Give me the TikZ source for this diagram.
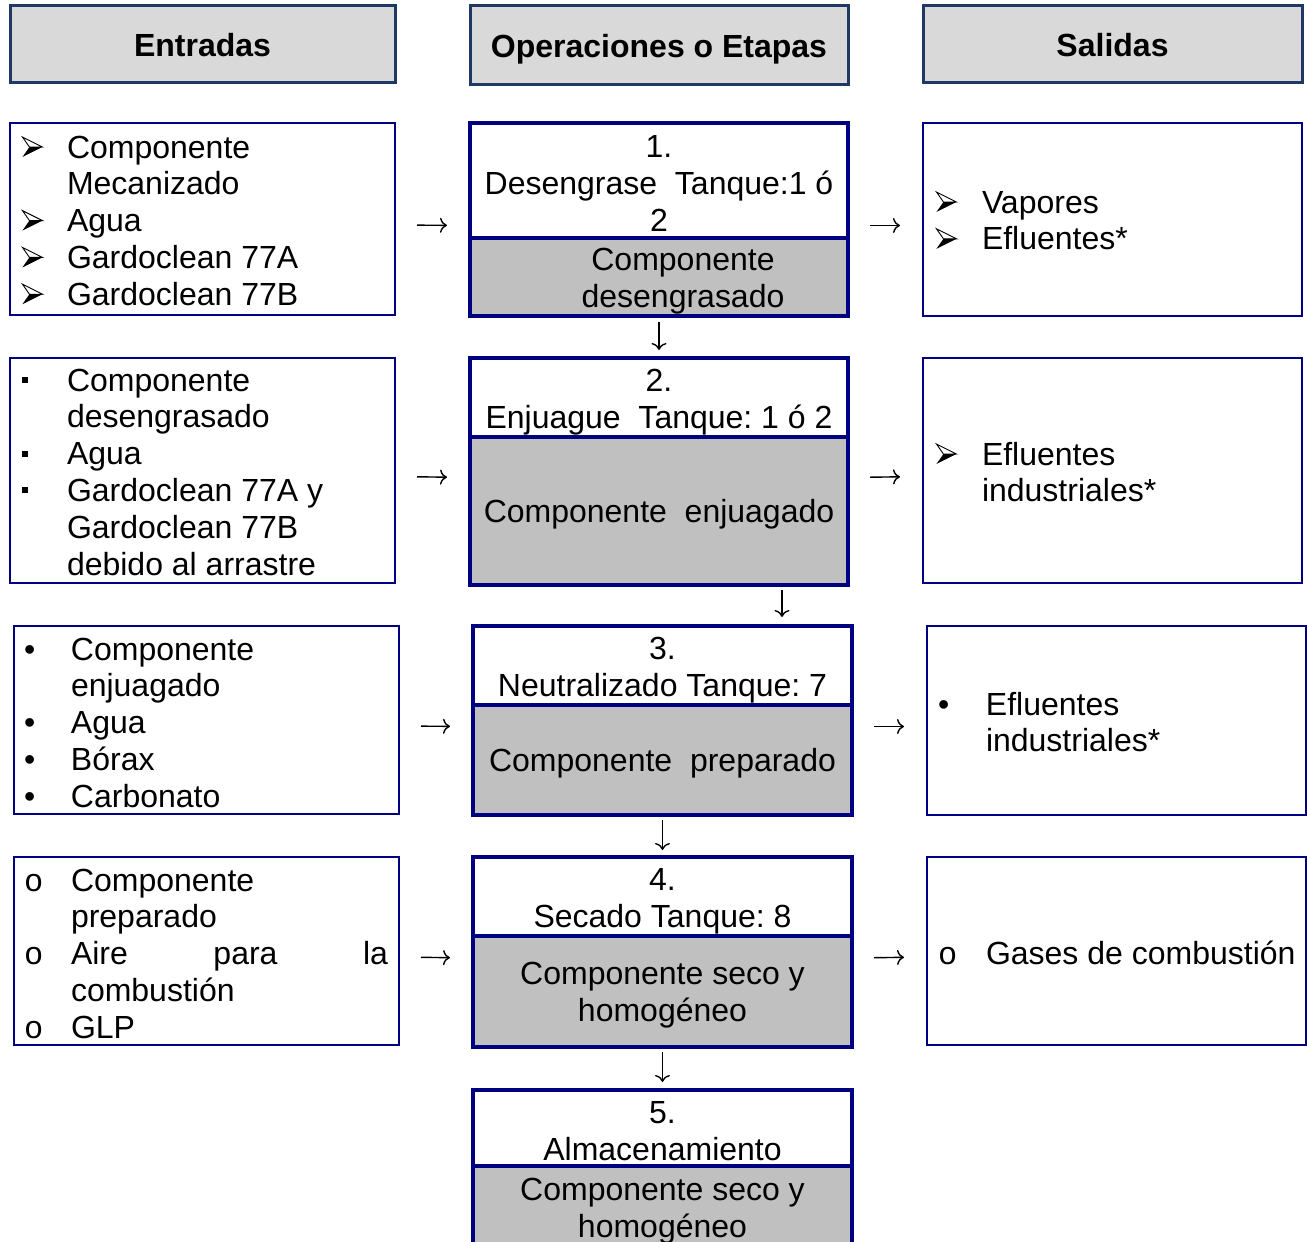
\documentclass[tikz,border=0pt]{standalone}
\usepackage{fontspec}
\setmainfont{Liberation Sans}
\newfontfamily\courierfont{Liberation Mono}
\usetikzlibrary{calc,fit,arrows.meta}
\frenchspacing

\definecolor{navy}{HTML}{000080}
\definecolor{headblue}{HTML}{1F3864}
\definecolor{headfill}{HTML}{D9D9D9}
\definecolor{stagefill}{HTML}{C0C0C0}

\newcommand\bodyfont{\fontsize{32}{36.8}\selectfont}
% list bullets
\newcommand\barrow{\tikz[x=1pt,y=1pt,baseline=0pt,line width=0.9pt,line join=miter]{%
  \filldraw[draw=black,fill=white] (0,21) -- (20,11) -- (7,11) -- cycle;
  \fill[black] (7,11) -- (20,11) -- (0,1) -- cycle;}}
\newcommand\bsquare{\raisebox{8pt}{\rule{6pt}{6pt}}}
\newcommand\bdot{•}
\newcommand\bcirc{{\courierfont o}}
% bullet list: fixed indent column, then the item text
\newcommand\blist[2]{\begin{tabular}[t]{@{}p{#1}@{}l@{}}#2\end{tabular}}

\begin{document}
\begin{tikzpicture}[x=1pt,y=-1pt,
  every node/.style={inner sep=0pt, outer sep=0pt},
  hdr/.style={draw=headblue, line width=3pt, fill=headfill, font=\bodyfont\bfseries,
    text height=28pt, text depth=3pt},
  listbox/.style={draw=navy, line width=2pt, fill=white},
  txt/.style={anchor=base west, font=\bodyfont, align=left},
  stagetop/.style={draw=navy, line width=3.5pt, fill=white},
  stagebot/.style={stagetop, fill=stagefill},
  stagetxt/.style={font=\bodyfont, align=center},
  flow/.style={line width=1.4pt, -{To[length=7pt,width=15pt]}},
  across/.style={flow, shorten <=22pt, shorten >=23pt},
]
\useasboundingbox (0,0) rectangle (1307,1242);
\clip (0,0) rectangle (1307,1242);
\fill[white] (0,0) rectangle (1307,1242);

% column headers
\node[hdr, minimum width=385, minimum height=77] (hIn)  at (202.5,43.5) {Entradas};
\node[hdr, minimum width=378, minimum height=79] (hOp)  at (659,44.5)   {Operaciones o Etapas};
\node[hdr, minimum width=379, minimum height=77] (hOut) at (1112.5,43.5) {Salidas};

% ---------- stage 1 ----------
\node[listbox, minimum width=385, minimum height=192] (in1) at (202.5,219) {};
\node[txt] (in1t) at (22,158) {\blist{45pt}{\barrow & Componente\\ & Mecanizado\\ \barrow & Agua\\ \barrow & Gardoclean 77A\\ \barrow & Gardoclean 77B}};
\node[stagetop, minimum width=378, minimum height=115] (op1t) at (659,180.5) {};
\node[stagebot, minimum width=378, minimum height=78] (op1b) at (659,277) {};
\node[fit=(op1t)(op1b)] (op1) {};
\node[stagetxt] (op1tt) at ($(op1t.center)+(0,3)$) {1.\\Desengrase\ \ Tanque:1 ó\\2};
\node[stagetxt] (op1bt) at ($(op1b.center)+(24,4)$) {Componente\\desengrasado};
\node[listbox, minimum width=379, minimum height=193] (out1) at (1112.5,219.5) {};
\node[txt] (out1t) at (936,213) {\blist{46pt}{\barrow & Vapores\\ \barrow & Efluentes*}};

% ---------- stage 2 ----------
\node[listbox, minimum width=385, minimum height=225] (in2) at (202.5,470.5) {};
\node[txt] (in2t) at (22,391) {\blist{45pt}{\bsquare & Componente\\ & desengrasado\\ \bsquare & Agua\\ \bsquare & Gardoclean 77A y\\ & Gardoclean 77B\\ & debido al arrastre}};
\node[stagetop, minimum width=378, minimum height=79] (op2t) at (659,397.5) {};
\node[stagebot, minimum width=378, minimum height=148] (op2b) at (659,511) {};
\node[fit=(op2t)(op2b)] (op2) {};
\node[stagetxt] (op2tt) at ($(op2t.center)+(0,5)$) {2.\\Enjuague\ \ Tanque: 1 ó 2};
\node[stagetxt] (op2bt) at ($(op2b.center)+(0,3)$) {Componente\ \ enjuagado};
\node[listbox, minimum width=379, minimum height=225] (out2) at (1112.5,470.5) {};
\node[txt] (out2t) at (936,465) {\blist{46pt}{\barrow & Efluentes\\ & industriales*}};

% ---------- stage 3 ----------
\node[listbox, minimum width=385, minimum height=188] (in3) at (206.5,720) {};
\node[txt] (in3t) at (24,660) {\blist{47pt}{\bdot & Componente\\ & enjuagado\\ \bdot & Agua\\ \bdot & Bórax\\ \bdot & Carbonato}};
\node[stagetop, minimum width=379, minimum height=79] (op3t) at (662.5,665.5) {};
\node[stagebot, minimum width=379, minimum height=110] (op3b) at (662.5,760) {};
\node[fit=(op3t)(op3b)] (op3) {};
\node[stagetxt] (op3tt) at ($(op3t.center)+(0,5)$) {3.\\Neutralizado Tanque: 7};
\node[stagetxt] (op3bt) at ($(op3b.center)+(0,3)$) {Componente\ \ preparado};
\node[listbox, minimum width=379, minimum height=189] (out3) at (1116.5,720.5) {};
\node[txt] (out3t) at (938,715) {\blist{48pt}{\bdot & Efluentes\\ & industriales*}};

% ---------- stage 4 ----------
\node[listbox, minimum width=385, minimum height=188] (in4) at (206.5,951) {};
\node[txt] (in4t) at (24,891) {\blist{47pt}{\bcirc & Componente\\ & preparado\\ \bcirc & \makebox[317pt][s]{Aire para la}\\ & combustión\\ \bcirc & GLP}};
\node[stagetop, minimum width=379, minimum height=79] (op4t) at (662.5,896.5) {};
\node[stagebot, minimum width=379, minimum height=111] (op4b) at (662.5,991.5) {};
\node[fit=(op4t)(op4b)] (op4) {};
\node[stagetxt] (op4tt) at ($(op4t.center)+(0,5)$) {4.\\Secado Tanque: 8};
\node[stagetxt] (op4bt) at ($(op4b.center)+(0,4)$) {Componente seco y\\homogéneo};
\node[listbox, line width=1.5pt, minimum width=379, minimum height=188] (out4) at (1116.5,951) {};
\node[txt] (out4t) at (938,964) {\blist{48pt}{\bcirc & Gases de combustión}};

% ---------- stage 5 ----------
\node[stagetop, minimum width=379, minimum height=76] (op5t) at (662.5,1128) {};
\node[stagebot, minimum width=379, minimum height=82] (op5b) at (662.5,1207) {};
\node[fit=(op5t)(op5b)] (op5) {};
\node[stagetxt] (op5tt) at ($(op5t.center)+(0,3)$) {5.\\Almacenamiento};
\node[stagetxt] (op5bt) at ($(op5b.center)+(0,4)$) {Componente seco y\\homogéneo};

% inputs -> stages -> outputs
\draw[across] ($(in1.east)+(0,6)$) -- ($(op1.west)+(0,6)$);
\draw[across] ($(op1.east)+(0,6)$) -- ($(out1.west)+(0,6)$);
\draw[across] ($(in2.east)+(0,6)$) -- ($(op2.west)+(0,6)$);
\draw[across] ($(op2.east)+(0,6)$) -- ($(out2.west)+(0,6)$);
\draw[across] ($(in3.east)+(0,6)$) -- ($(op3.west)+(0,6)$);
\draw[across] ($(op3.east)+(0,6)$) -- ($(out3.west)+(0,6)$);
\draw[across] ($(in4.east)+(0,6)$) -- ($(op4.west)+(0,6)$);
\draw[across] ($(op4.east)+(0,6)$) -- ($(out4.west)+(0,6)$);

% stage to stage
\draw[flow, shorten <=6pt, shorten >=8pt] (op1.south) -- (op2.north);
\draw[flow, shorten <=5pt, shorten >=9pt] ($(op2.south)+(123,0)$) -- ($(op3.north)+(119.5,0)$);
\draw[flow, shorten <=5pt, shorten >=7pt] (op3.south) -- (op4.north);
\draw[flow, shorten <=5pt, shorten >=8pt] (op4.south) -- (op5.north);
\end{tikzpicture}
\end{document}
